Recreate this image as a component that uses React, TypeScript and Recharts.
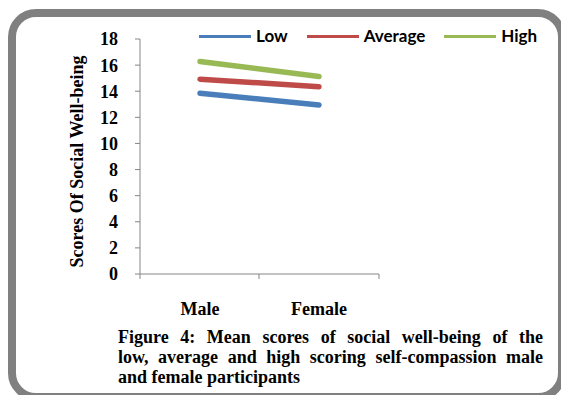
import React from 'react';
import { LineChart, Line, XAxis, YAxis, Legend } from 'recharts';

const categories = ['Male', 'Female'];
const lowScores = [13.85, 12.95];
const averageScores = [14.92, 14.35];
const highScores = [16.28, 15.12];
const yTicks = [0, 2, 4, 6, 8, 10, 12, 14, 16, 18];

const series = [
  { key: 'low', name: 'Low', color: '#4A7EBB', values: lowScores },
  { key: 'average', name: 'Average', color: '#BE4B48', values: averageScores },
  { key: 'high', name: 'High', color: '#98B954', values: highScores },
];

const data = categories.map((gender, i) => {
  const row: Record<string, string | number> = { gender };
  series.forEach((s) => {
    row[s.key] = s.values[i];
  });
  return row;
});

const SERIF = '"Liberation Serif", "Times New Roman", serif';
const AXIS_GREY = '#868686';
// half a category width: points sit in the middle of each category
const HALF_BAND = 60;

function GenderTick(props: any) {
  const { x, y, payload, index } = props;
  const marks = [x - HALF_BAND];
  if (index === categories.length - 1) marks.push(x + HALF_BAND);
  return (
    <g>
      {marks.map((mx) => (
        <line key={mx} x1={mx} x2={mx} y1={y} y2={y + 5} stroke={AXIS_GREY} strokeWidth={1} />
      ))}
      <text
        x={x}
        y={y + 41}
        textAnchor="middle"
        fontFamily={SERIF}
        fontWeight="bold"
        fontSize={18}
        fill="#000"
      >
        {payload.value}
      </text>
    </g>
  );
}

function YTitle(props: any) {
  const { viewBox } = props;
  const cx = viewBox.x + 77;
  const cy = viewBox.y + viewBox.height / 2 + 5;
  return (
    <text
      x={cx}
      y={cy}
      transform={`rotate(-90 ${cx} ${cy})`}
      textAnchor="middle"
      dominantBaseline="central"
      fontFamily={SERIF}
      fontWeight="bold"
      fontSize={18}
      fill="#000"
    >
      Scores Of Social Well-being
    </text>
  );
}

function SeriesLegend() {
  return (
    <div style={{ display: 'flex', alignItems: 'center' }}>
      {series.map((s) => (
        <div key={s.key} style={{ display: 'flex', alignItems: 'center', marginRight: 19 }}>
          <span style={{ display: 'inline-block', width: 52, height: 3, background: s.color }} />
          <span
            style={{
              marginLeft: 5,
              fontFamily: 'Lato, "Open Sans", sans-serif',
              fontWeight: 700,
              fontSize: 17,
              color: '#000',
              lineHeight: '20px',
            }}
          >
            {s.name}
          </span>
        </div>
      ))}
    </div>
  );
}

const captionLine: React.CSSProperties = {
  textAlign: 'justify',
  textAlignLast: 'justify',
  whiteSpace: 'nowrap',
};

export default function App() {
  return (
    <div
      style={{
        position: 'absolute',
        left: 0,
        top: 0,
        width: 561,
        height: 395,
        overflow: 'hidden',
        background: '#fff',
      }}
    >
      <div
        style={{
          position: 'absolute',
          left: 8,
          top: 9,
          width: 558,
          height: 392,
          boxSizing: 'border-box',
          border: '8px solid #808080',
          borderRadius: 28,
        }}
      />
      <div style={{ position: 'absolute', left: 0, top: 0 }}>
        <LineChart
          width={561}
          height={330}
          data={data}
          margin={{ top: 39, right: 182, bottom: 0, left: 0 }}
        >
          <XAxis
            dataKey="gender"
            height={56}
            padding={{ left: HALF_BAND, right: HALF_BAND }}
            axisLine={{ stroke: AXIS_GREY, strokeWidth: 1 }}
            tickLine={false}
            tickSize={0}
            tickMargin={0}
            tick={<GenderTick />}
            interval={0}
          />
          <YAxis
            width={140}
            domain={[0, 18]}
            ticks={yTicks}
            interval={0}
            axisLine={{ stroke: AXIS_GREY, strokeWidth: 1 }}
            tickLine={{ stroke: AXIS_GREY, strokeWidth: 1 }}
            tickSize={5}
            tickMargin={17}
            tick={{ fontFamily: SERIF, fontWeight: 'bold', fontSize: 18, fill: '#000' }}
            label={{ content: <YTitle /> }}
          />
          <Legend
            layout="horizontal"
            verticalAlign="middle"
            align="center"
            content={<SeriesLegend />}
            wrapperStyle={{ top: 26, left: 199, width: 360, height: 20 }}
          />
          {series.map((s) => (
            <Line
              key={s.key}
              type="linear"
              dataKey={s.key}
              name={s.name}
              stroke={s.color}
              strokeWidth={5.5}
              strokeLinecap="round"
              dot={false}
              activeDot={false}
              isAnimationActive={false}
            />
          ))}
        </LineChart>
      </div>
      <div
        style={{
          position: 'absolute',
          left: 118,
          top: 327,
          width: 425,
          fontFamily: SERIF,
          fontWeight: 'bold',
          fontSize: 18,
          lineHeight: '20px',
          color: '#000',
        }}
      >
        <div style={captionLine}>Figure 4: Mean scores of social well-being of the</div>
        <div style={captionLine}>low, average and high scoring self-compassion male</div>
        <div>and female participants</div>
      </div>
    </div>
  );
}
